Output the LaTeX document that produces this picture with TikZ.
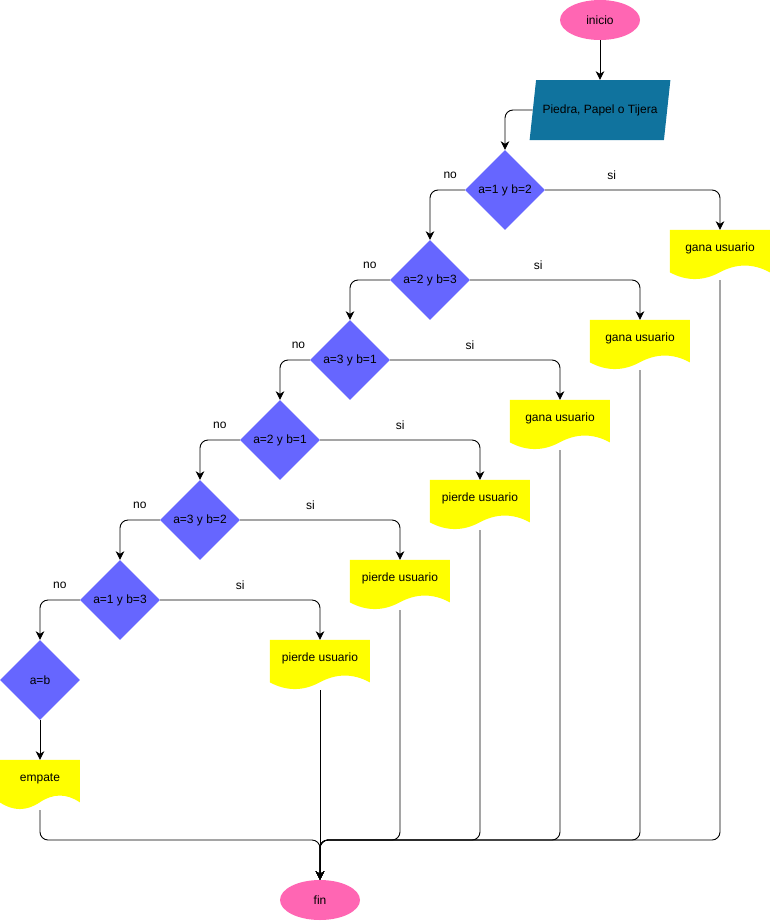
\documentclass[tikz,border=0pt]{standalone}
\usepackage{fontspec}
\setmainfont{Liberation Sans}
\usetikzlibrary{shapes.geometric,arrows.meta,backgrounds}

\definecolor{termpink}{HTML}{FF66B3}
\definecolor{ioblue}{HTML}{10739E}
\definecolor{decviolet}{HTML}{6666FF}
\definecolor{docyellow}{HTML}{FFFF00}

\tikzset{
  every node/.style={font=\fontsize{12pt}{14pt}\selectfont},
  term/.style={ellipse, fill=termpink, minimum width=80pt, minimum height=40pt, inner sep=0pt},
  inout/.style={trapezium, trapezium left angle=72, trapezium right angle=108, trapezium stretches,
    fill=ioblue, minimum width=141pt, minimum height=60pt, inner xsep=0pt},
  decision/.style={diamond, fill=decviolet, minimum width=80pt, minimum height=80pt, inner sep=0pt},
  document/.style={rectangle, minimum width=#1pt, minimum height=50pt, inner sep=0pt,
    text height=9pt, text depth=17pt},
  document/.default=100,
  flow/.style={-{Stealth[length=8.5pt,width=8.5pt,inset=2.5pt]}, line width=0.9pt, rounded corners=8pt},
  choice/.style={inner sep=0pt, yshift=15pt}
}

\begin{document}
\begin{tikzpicture}[x=1pt, y=-1pt]
  \useasboundingbox (0,0) rectangle (771,921);

  \node[term] (inicio) at (600,20) {inicio};
  \node[inout] (io) at (600,110) {Piedra, Papel o Tijera};

  \node[decision] (d1) at (505,190) {a=1 y b=2};
  \node[decision] (d2) at (430,280) {a=2 y b=3};
  \node[decision] (d3) at (350,360) {a=3 y b=1};
  \node[decision] (d4) at (280,440) {a=2 y b=1};
  \node[decision] (d5) at (200,520) {a=3 y b=2};
  \node[decision] (d6) at (120,600) {a=1 y b=3};
  \node[decision] (d7) at (40,680) {a=b};

  \node[document] (doc1) at (720,255) {gana usuario};
  \node[document] (doc2) at (640,345) {gana usuario};
  \node[document] (doc3) at (560,425) {gana usuario};
  \node[document] (doc4) at (480,505) {pierde usuario};
  \node[document] (doc5) at (400,585) {pierde usuario};
  \node[document] (doc6) at (320,665) {pierde usuario};
  \node[document=80] (doc7) at (40,785) {empate};

  \begin{scope}[on background layer]
    \foreach \dname/\dw in {doc1/100, doc2/100, doc3/100, doc4/100, doc5/100, doc6/100, doc7/80}
      \fill[docyellow, shift={(\dname.north west)}, xscale=\dw/100]
        (0,0) -- (100,0) -- (100,42.5) .. controls (83.33,33.5) and (66.67,33.5) .. (50,42.5)
        .. controls (33.33,51.5) and (16.67,51.5) .. (0,42.5) -- cycle;
  \end{scope}

  \node[term] (fin) at (320,900) {fin};
  \coordinate (merge) at (320,840);

  \draw[flow] (inicio) -- (io);
  \draw[flow] (io.west) -| (d1.north);

  \draw[flow] (d1.east) -| node[choice, pos=0.19] (si1) {si} (doc1.north);
  \draw[flow] (d1.west) -| node[choice, pos=0.21] (no1) {no} (d2.north);
  \draw[flow] (d2.east) -| node[choice, pos=0.2] (si2) {si} (doc2.north);
  \draw[flow] (d2.west) -| node[choice, pos=0.25] (no2) {no} (d3.north);
  \draw[flow] (d3.east) -| node[choice, pos=0.235] (si3) {si} (doc3.north);
  \draw[flow] (d3.west) -| node[choice, pos=0.19] (no3) {no} (d4.north);
  \draw[flow] (d4.east) -| node[choice, pos=0.25] (si4) {si} (doc4.north);
  \draw[flow] (d4.west) -| node[choice, pos=0.25] (no4) {no} (d5.north);
  \draw[flow] (d5.east) -| node[choice, pos=0.22] (si5) {si} (doc5.north);
  \draw[flow] (d5.west) -| node[choice, pos=0.25] (no5) {no} (d6.north);
  \draw[flow] (d6.east) -| node[choice, pos=0.25] (si6) {si} (doc6.north);
  \draw[flow] (d6.west) -| node[choice, pos=0.25] (no6) {no} (d7.north);
  \draw[flow] (d7) -- (doc7);

  \draw[flow] (doc1.south) |- (merge) -- (fin.north);
  \draw[flow] (doc2.south) |- (merge) -- (fin.north);
  \draw[flow] (doc3.south) |- (merge) -- (fin.north);
  \draw[flow] (doc4.south) |- (merge) -- (fin.north);
  \draw[flow] (doc5.south) |- (merge) -- (fin.north);
  \draw[flow] (doc7.south) |- (merge) -- (fin.north);
  \draw[flow] (doc6.south) -- (fin.north);
\end{tikzpicture}
\end{document}
